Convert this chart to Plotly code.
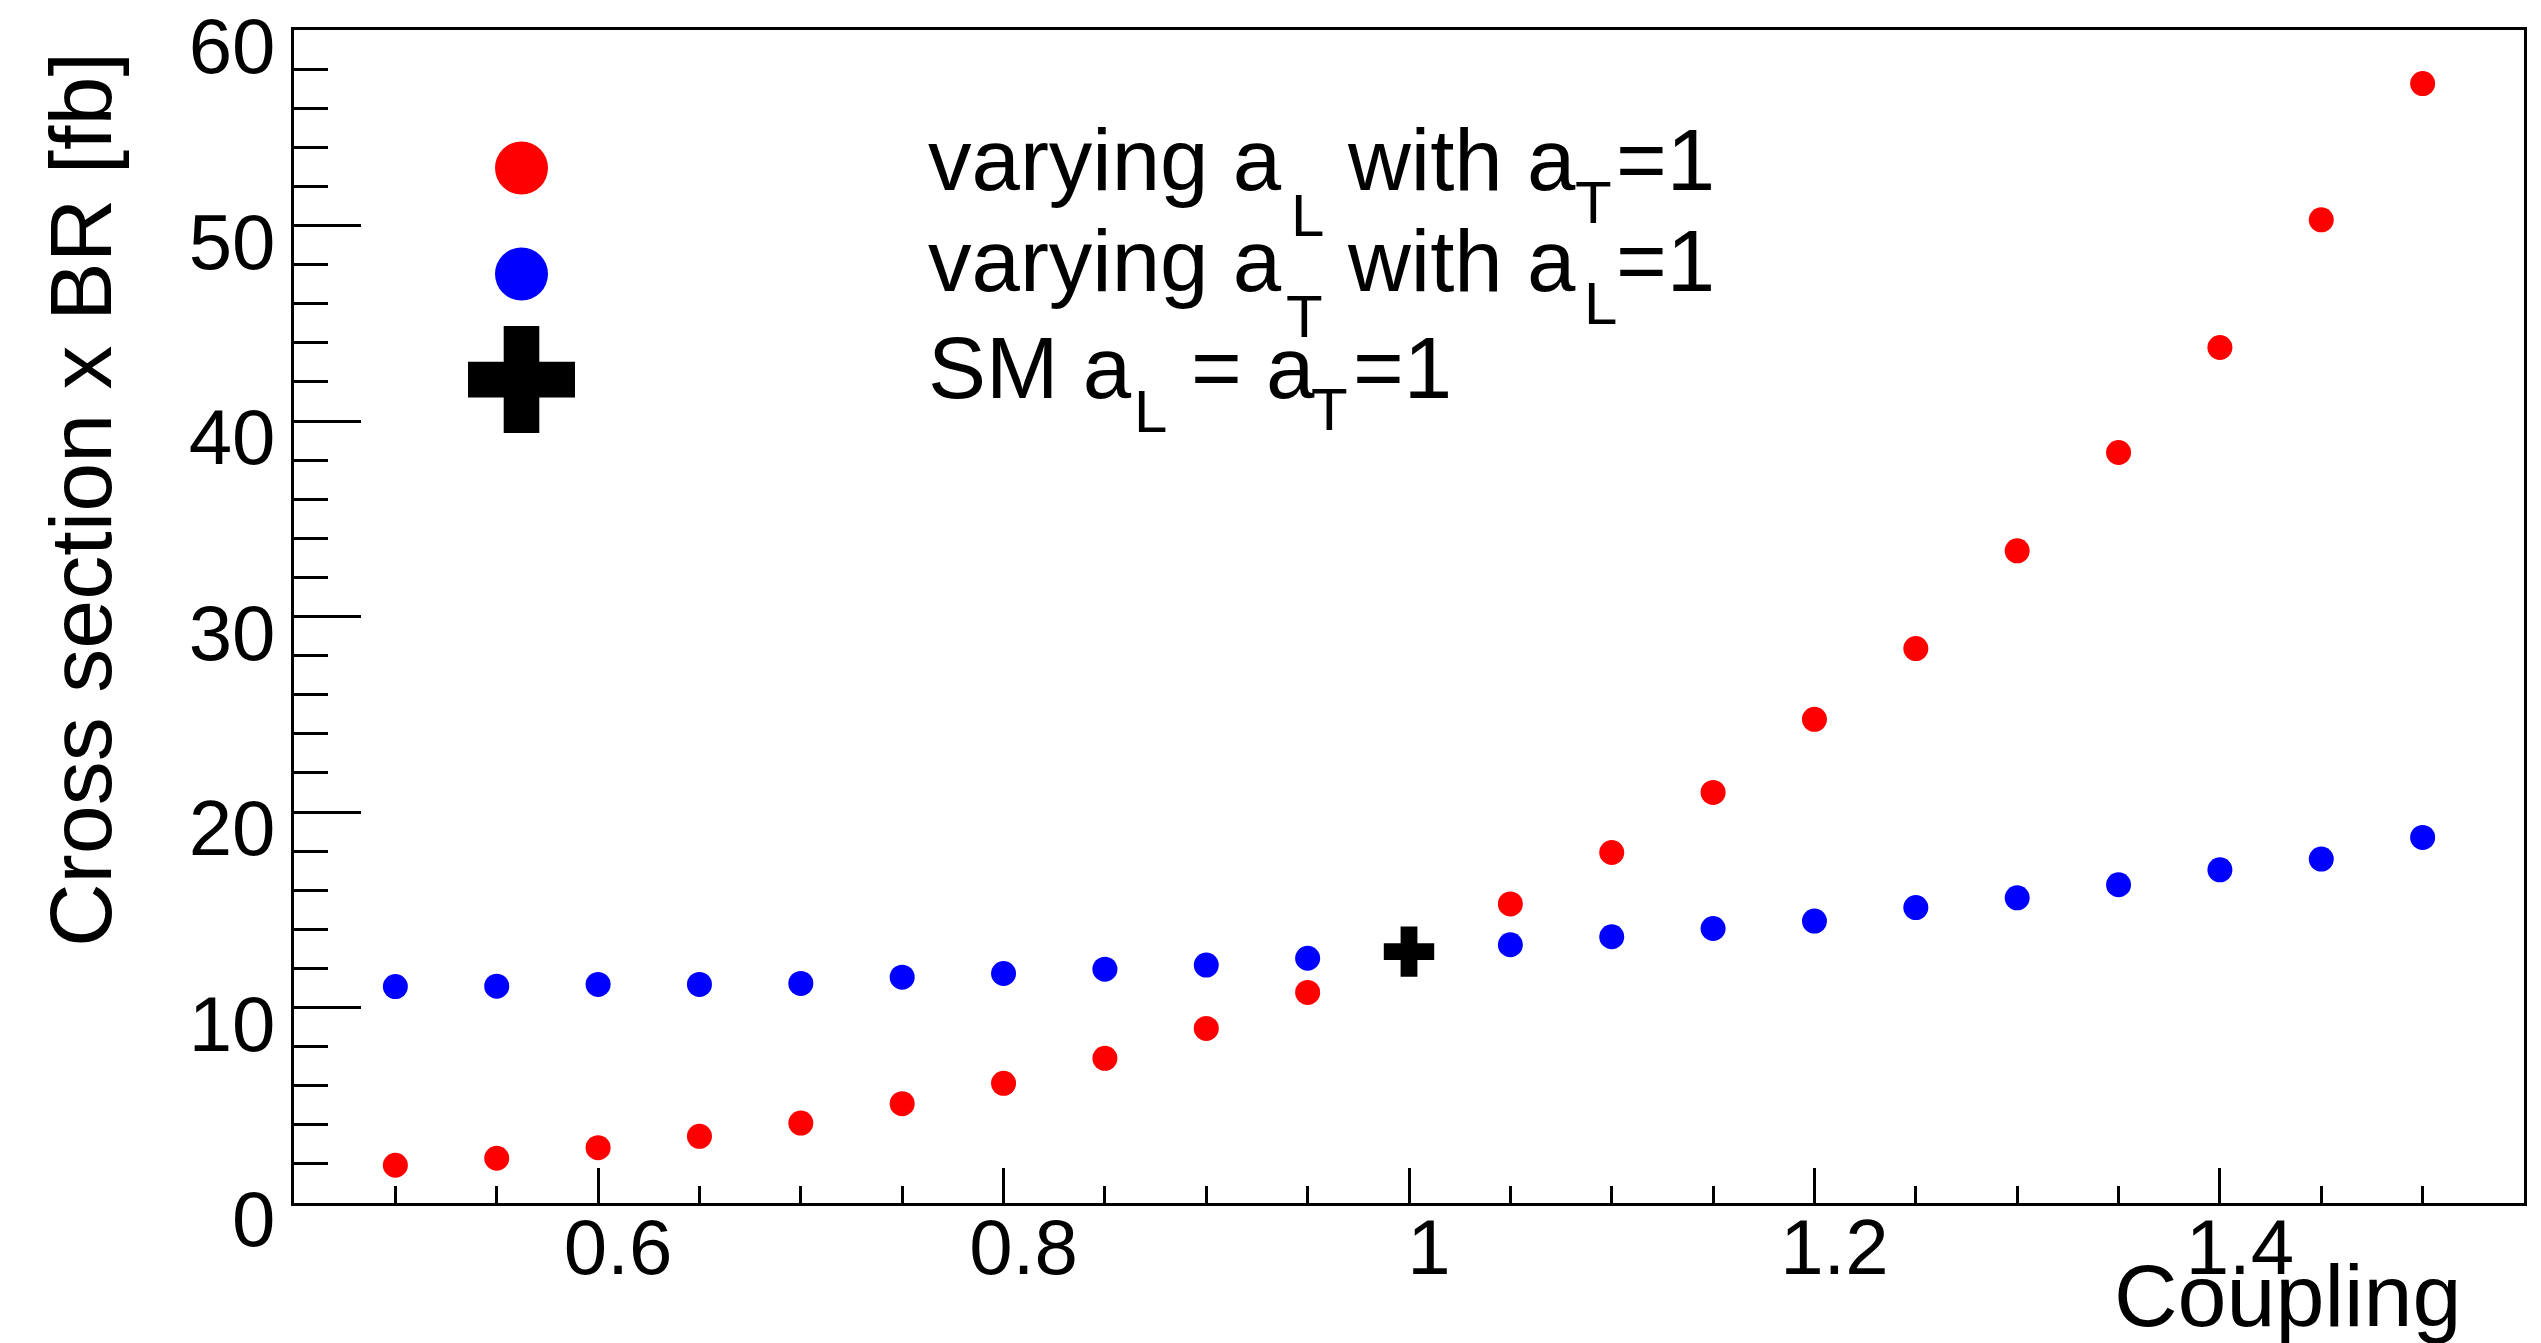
import plotly.graph_objects as go

# ---------------- data ----------------
coupling = [0.50, 0.55, 0.60, 0.65, 0.70, 0.75, 0.80, 0.85, 0.90, 0.95,
            1.05, 1.10, 1.15, 1.20, 1.25, 1.30, 1.35, 1.40, 1.45, 1.50]
xsec_vary_aL = [1.93, 2.29, 2.83, 3.41, 4.09, 5.08, 6.12, 7.40, 8.93, 10.77,
                15.30, 17.93, 21.00, 24.74, 28.36, 33.36, 38.39, 43.76, 50.29, 57.26]
xsec_vary_aT = [11.07, 11.09, 11.18, 11.18, 11.23, 11.55, 11.74, 11.96, 12.17, 12.52,
                13.21, 13.62, 14.04, 14.42, 15.11, 15.61, 16.28, 17.04, 17.59, 18.70]
sm_coupling = [1.0]
sm_xsec = [12.86]

x_tickvals = [0.6, 0.8, 1.0, 1.2, 1.4]
x_ticktext = ["0.6", "0.8", "1", "1.2", "1.4"]
y_tickvals = [0, 10, 20, 30, 40, 50, 60]
y_ticktext = ["0", "10", "20", "30", "40", "50", "60"]

# ---------------- layout geometry ----------------
W, H = 2541, 1343
ML, MR, MT, MB = 294, 17, 30, 140
PW, PH = W - ML - MR, H - MT - MB
FONT = "Liberation Sans, Arial, Helvetica, sans-serif"


def px_x(px):
    return (px - ML) / PW


def px_y(py):
    return (H - MB - py) / PH


fig = go.Figure()

fig.add_trace(go.Scatter(
    x=coupling, y=xsec_vary_aL, mode="markers",
    marker=dict(symbol="circle", size=25, color="#ff0000", line=dict(width=0)),
    showlegend=False, name="varying aL"))
fig.add_trace(go.Scatter(
    x=coupling, y=xsec_vary_aT, mode="markers",
    marker=dict(symbol="circle", size=25, color="#0000ff", line=dict(width=0)),
    showlegend=False, name="varying aT"))
fig.add_trace(go.Scatter(
    x=sm_coupling, y=sm_xsec, mode="markers",
    marker=dict(symbol="cross", size=42, color="#000000", line=dict(width=0)),
    showlegend=False, name="SM"))

axis_common = dict(
    showline=True, linecolor="black", linewidth=3, mirror=True,
    ticks="inside", tickcolor="black", tickwidth=3,
    showgrid=False, zeroline=False, ticklabeloverflow="allow",
    automargin=False,
    tickfont=dict(family=FONT, size=78, color="black"),
)

fig.update_xaxes(
    range=[0.45, 1.55], tickmode="array", tickvals=x_tickvals, ticktext=x_ticktext,
    ticklen=35, ticklabelshift=20, ticklabelstandoff=-26,
    minor=dict(tickmode="linear", tick0=0.45, dtick=0.05, ticks="inside",
               ticklen=17, tickwidth=3, tickcolor="black", showgrid=False),
    **axis_common)
fig.update_yaxes(
    range=[0, 60], tickmode="array", tickvals=y_tickvals, ticktext=y_ticktext,
    ticklen=67, ticklabelshift=16, ticklabelstandoff=0,
    minor=dict(tickmode="linear", tick0=0, dtick=2, ticks="inside",
               ticklen=34, tickwidth=3, tickcolor="black", showgrid=False),
    **axis_common)

annotations = []


def txt(text, px, py, size, anchor="left", angle=0):
    annotations.append(dict(
        text=text, x=px_x(px), y=px_y(py), xref="paper", yref="paper",
        xanchor=anchor, yanchor="middle", showarrow=False, textangle=angle,
        font=dict(family=FONT, size=size, color="black")))


# axis titles
txt("Cross section x BR [fb]", 80, 500, 88, anchor="center", angle=-90)
txt("Coupling", 2463, 1295, 88, anchor="right")

# legend text (main pieces + subscripts)
MAIN, SUB = 87, 60
txt("varying a", 926, 160, MAIN)
txt("L", 1289, 216, SUB)
txt("with a", 1345, 160, MAIN)
txt("T", 1573, 202, SUB)
txt("=1", 1614, 160, MAIN)

txt("varying a", 926, 261, MAIN)
txt("T", 1284, 316, SUB)
txt("with a", 1345, 261, MAIN)
txt("L", 1582, 303, SUB)
txt("=1", 1614, 261, MAIN)

txt("SM a", 926, 367, MAIN)
txt("L", 1132, 411, SUB)
txt("= a", 1189, 367, MAIN)
txt("T", 1309, 410, SUB)
txt("=1", 1351, 367, MAIN)

# legend symbols
shapes = []
for cy, col in [(168, "#ff0000"), (274, "#0000ff")]:
    shapes.append(dict(
        type="circle", xref="paper", yref="paper",
        xsizemode="pixel", ysizemode="pixel",
        xanchor=px_x(521.5), yanchor=px_y(cy),
        x0=-26.5, x1=26.5, y0=-26.5, y1=26.5,
        fillcolor=col, line=dict(width=0)))
a, b = 53.5, 17.8
cross_path = (f"M {-b},{-a} L {b},{-a} L {b},{-b} L {a},{-b} L {a},{b} L {b},{b} "
              f"L {b},{a} L {-b},{a} L {-b},{b} L {-a},{b} L {-a},{-b} L {-b},{-b} Z")
shapes.append(dict(
    type="path", xref="paper", yref="paper",
    xsizemode="pixel", ysizemode="pixel",
    xanchor=px_x(521.5), yanchor=px_y(379.6),
    path=cross_path, fillcolor="black", line=dict(width=0)))

fig.update_layout(
    width=W, height=H,
    margin=dict(l=ML, r=MR, t=MT, b=MB, pad=0, autoexpand=False),
    paper_bgcolor="white", plot_bgcolor="white",
    annotations=annotations, shapes=shapes,
    showlegend=False,
)

fig.write_html("out.html")
